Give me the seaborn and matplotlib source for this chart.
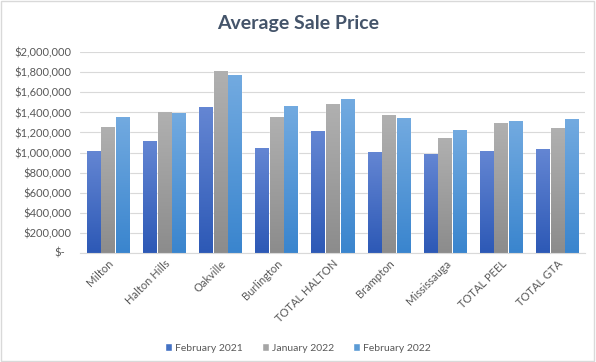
import numpy as np
import pandas as pd
import matplotlib.pyplot as plt
import seaborn as sns
from matplotlib.colors import LinearSegmentedColormap
from matplotlib.ticker import FuncFormatter
from matplotlib.patches import Patch, Rectangle

# Data
regions = ['Milton', 'Halton Hills', 'Oakville', 'Burlington', 'TOTAL HALTON',
           'Brampton', 'Mississauga', 'TOTAL PEEL', 'TOTAL GTA']
periods = ['February 2021', 'January 2022', 'February 2022']
feb_2021 = [1020000, 1115000, 1450000, 1050000, 1210000, 1010000, 990000, 1020000, 1040000]
jan_2022 = [1255000, 1400000, 1810000, 1350000, 1480000, 1370000, 1150000, 1290000, 1240000]
feb_2022 = [1350000, 1390000, 1770000, 1460000, 1530000, 1340000, 1220000, 1310000, 1330000]

df = pd.DataFrame({
    'Region': regions * 3,
    'Period': [periods[0]] * 9 + [periods[1]] * 9 + [periods[2]] * 9,
    'Price': feb_2021 + jan_2022 + feb_2022,
})

# (bottom, top) colours for the gradient fill, plus a solid one for the legend
grad = {
    'February 2021': ('#2D59B6', '#6486D3', '#4472C4'),
    'January 2022': ('#8C8C8C', '#B0B0B0', '#A5A5A5'),
    'February 2022': ('#3A85CE', '#72AAE0', '#5B9BD5'),
}

sns.set_style('white')
plt.rcParams['font.family'] = ['Lato', 'DejaVu Sans']

fig = plt.figure(figsize=(5.96, 3.62), dpi=100)
ax = fig.add_axes([0.134, 0.301, 0.848, 0.555])

sns.barplot(data=df, x='Region', y='Price', hue='Period', order=regions,
            hue_order=periods, palette=[grad[p][2] for p in periods],
            width=0.78, gap=0.1, legend=False, ax=ax)

# gradient fill inside each bar
for cont, p in zip(ax.containers, periods):
    cmap = LinearSegmentedColormap.from_list(p, [grad[p][0], grad[p][1]])
    for bar in cont:
        x0, y0 = bar.get_x(), bar.get_y()
        w, h = bar.get_width(), bar.get_height()
        img = ax.imshow(np.linspace(0, 1, 64).reshape(-1, 1), cmap=cmap, origin='lower',
                        extent=[x0, x0 + w, y0, y0 + h], aspect='auto', zorder=bar.get_zorder())
        img.set_clip_path(bar)

ax.set_xlim(-0.5, len(regions) - 0.5)
ax.set_ylim(0, 2000000)
ax.set_yticks(np.arange(0, 2000001, 200000))
# zero gets its own label below (Excel accounting "$-" sits further left)
ax.yaxis.set_major_formatter(FuncFormatter(lambda v, _: '' if v == 0 else f'${v:,.0f}'))
ax.annotate('$-', xy=(0, 0), xycoords=ax.get_yaxis_transform(), xytext=(-10.5, 0),
            textcoords='offset points', ha='right', va='center', fontsize=8, color='#595959')

ax.grid(axis='y', color='#D9D9D9', linewidth=0.8)
ax.set_axisbelow(True)
for s in ['top', 'right', 'left']:
    ax.spines[s].set_visible(False)
ax.spines['bottom'].set_color('#D9D9D9')
ax.tick_params(length=0, colors='#595959', labelsize=8)
ax.tick_params(axis='y', pad=6)
plt.setp(ax.get_xticklabels(), rotation=45, ha='right', rotation_mode='anchor')
ax.set_xlabel('')
ax.set_ylabel('')

fig.suptitle('Average Sale Price', x=0.5, y=0.958, fontsize=14, fontweight='bold', color='#44546A')

handles = [Patch(facecolor=grad[p][2], label=p) for p in periods]
fig.legend(handles=handles, loc='lower center', bbox_to_anchor=(0.5, 0.0), ncol=3,
           frameon=False, fontsize=7.5, handlelength=0.7, handleheight=0.7,
           handletextpad=0.3, columnspacing=1.8, labelcolor='#595959')

fig.patches.append(Rectangle((0.002, 0.003), 0.995, 0.994, transform=fig.transFigure,
                             fill=False, edgecolor='#D9D9D9', linewidth=1))

fig.savefig('out.png', dpi=100)
